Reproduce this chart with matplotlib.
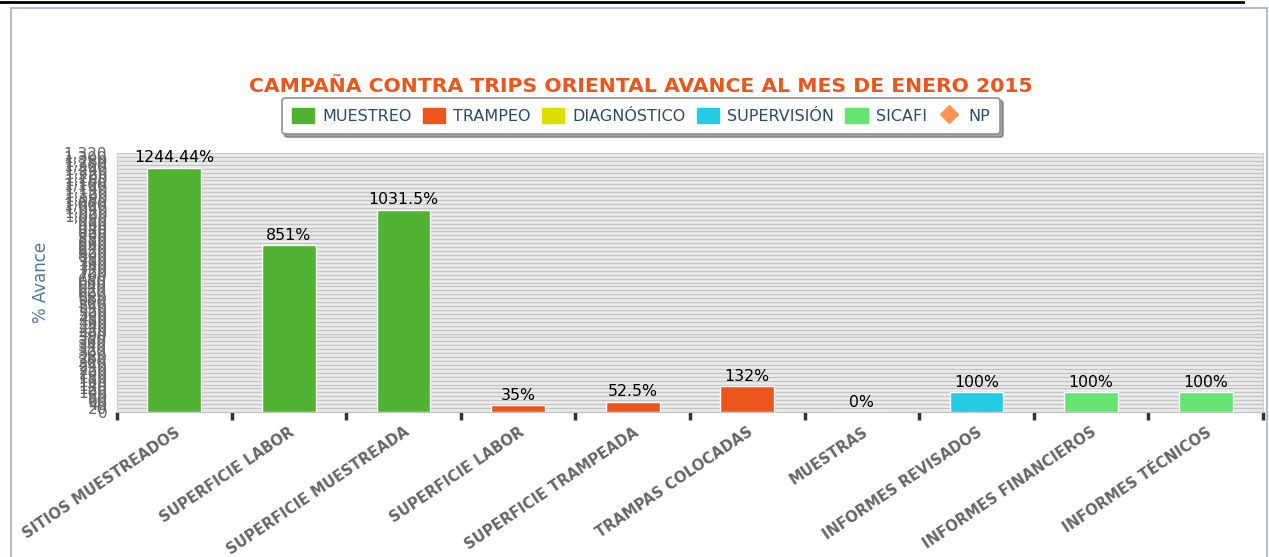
import matplotlib
matplotlib.use("Agg")
import matplotlib.pyplot as plt
from matplotlib.patches import Patch, Rectangle
from matplotlib.lines import Line2D
from matplotlib.ticker import MultipleLocator, FuncFormatter
import numpy as np

categories = ["SITIOS MUESTREADOS", "SUPERFICIE LABOR", "SUPERFICIE MUESTREADA",
              "SUPERFICIE LABOR", "SUPERFICIE TRAMPEADA", "TRAMPAS COLOCADAS",
              "MUESTRAS", "INFORMES REVISADOS", "INFORMES FINANCIEROS", "INFORMES TÉCNICOS"]
values = [1244.44, 851, 1031.5, 35, 52.5, 132, 0, 100, 100, 100]
groups = ["MUESTREO", "MUESTREO", "MUESTREO", "TRAMPEO", "TRAMPEO", "TRAMPEO",
          "DIAGNÓSTICO", "SUPERVISIÓN", "SICAFI", "SICAFI"]
series = ["MUESTREO", "TRAMPEO", "DIAGNÓSTICO", "SUPERVISIÓN", "SICAFI", "NP"]
series_colors = {"MUESTREO": "#50B432", "TRAMPEO": "#ED561B", "DIAGNÓSTICO": "#DDDF00",
                 "SUPERVISIÓN": "#24CBE5", "SICAFI": "#64E572", "NP": "#FF9655"}
title = "CAMPAÑA CONTRA TRIPS ORIENTAL AVANCE AL MES DE ENERO 2015"
ylabel = "% Avance"
y_max = 1320
y_step = 20

W, H = 1269, 557
fig = plt.figure(figsize=(W / 100, H / 100), dpi=100)

# outer frame and top rule
fig.add_artist(Rectangle((11 / W, -0.01), (1267 - 11) / W, (557 - 8) / H + 0.01,
                         transform=fig.transFigure, fill=False, edgecolor="#9fb3c8", lw=1.2))
fig.add_artist(Line2D([0, 1243 / W], [1 - 2 / H, 1 - 2 / H], transform=fig.transFigure,
                      color="black", lw=2))

ax = fig.add_axes([117 / W, 1 - 412 / H, (1263 - 117) / W, (412 - 153) / H])
ax.set_facecolor("#ececec")
x = np.arange(len(categories))
colors = [series_colors[g] for g in groups]
bars = ax.bar(x, values, width=0.47, color=colors, edgecolor="white", linewidth=1, zorder=3)
for xi, v in zip(x, values):
    ax.text(xi, v + 12, f"{v:g}%", ha="center", va="bottom", fontsize=11.3, color="black", zorder=4)

ax.set_xlim(-0.5, len(categories) - 0.5)
ax.set_ylim(0, y_max)
ax.yaxis.set_major_locator(MultipleLocator(y_step))
ax.yaxis.set_major_formatter(FuncFormatter(lambda v, p: f"{int(v):,}"))
ax.grid(axis="y", color="#c4c4c4", lw=1, zorder=1)
ax.tick_params(axis="y", length=0, labelsize=11, labelcolor="#666666", pad=7)

ax.set_xticks(x)
ax.set_xticklabels(categories, rotation=34, ha="right", va="top", rotation_mode="anchor",
                   fontsize=10.6, fontweight="bold", color="#666666")
ax.tick_params(axis="x", which="major", length=0, pad=9)
ax.set_xticks(np.arange(len(categories) + 1) - 0.5, minor=True)
ax.tick_params(axis="x", which="minor", length=6, width=2.5, color="#333333", direction="out")

for s in ["top", "right", "left"]:
    ax.spines[s].set_color("#d0d0d0")
ax.spines["bottom"].set_color("#c0c0c0")

ax.set_ylabel(ylabel, fontsize=12, color="#4d759e")
ax.yaxis.set_label_coords(-0.0585, 0.5)

fig.text(641 / W, 1 - 87 / H, title, ha="center", va="center", fontsize=14.7,
         fontweight="bold", color="#ED561B")

handles = []
for s in series:
    if s == "NP":
        handles.append(Line2D([], [], marker="D", linestyle="none", markersize=9,
                              markerfacecolor=series_colors[s], markeredgecolor=series_colors[s]))
    else:
        handles.append(Patch(facecolor=series_colors[s], edgecolor=series_colors[s]))
leg = fig.legend(handles, series, loc="center", bbox_to_anchor=(641 / W, 1 - 116 / H), ncol=6,
                 frameon=True, fontsize=11.5, handlelength=1.4, handleheight=1.1,
                 handletextpad=0.5, columnspacing=0.7, borderpad=0.65, fancybox=True, shadow=True)
leg.get_frame().set_edgecolor("#909090")
leg.get_frame().set_linewidth(1.2)
for t in leg.get_texts():
    t.set_color("#274b6d")

fig.savefig("out.png", dpi=100)
